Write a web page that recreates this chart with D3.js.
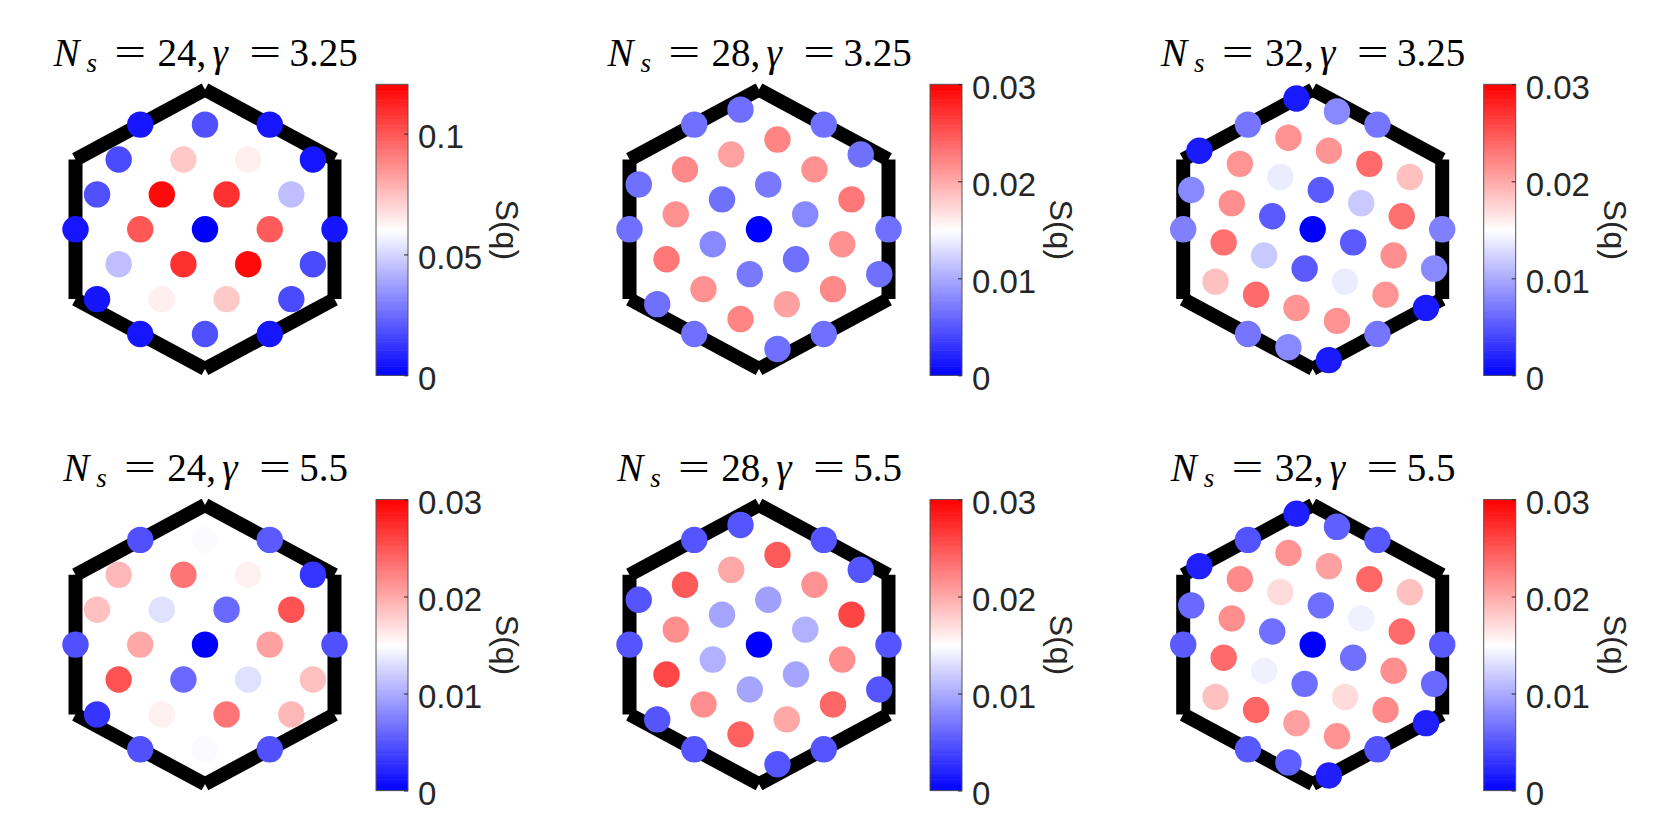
<!DOCTYPE html>
<html><head><meta charset="utf-8">
<script src="https://cdn.jsdelivr.net/npm/d3@7"></script>
<style>body{margin:0;background:#fff}</style>
</head><body>
<svg id="chart" width="1661" height="832"></svg>
<script>
// ---------------- DATA ----------------
// cluster sizes (columns) and coupling values (rows)
const clusterSizes = [24, 28, 32];
const gammaValues = ["3.25", "5.5"];
// Brillouin-zone extents in each cluster's momentum-grid units (half-width, circumradius)
const gridHalfWidth = [6, 14, 16];
const gridRadius = [4, 28, 32];
// colour-bar ranges and ticks
const cbarMaxTop = [0.1204, 0.03, 0.03];
const cbarMaxBottom = [0.03, 0.03, 0.03];
const ticksWide = [0, 0.05, 0.1];
const ticksNarrow = [0, 0.01, 0.02, 0.03];
const colorbarLabel = "S(q)";

// [qx, qy, S(q)] momentum points (grid units) and structure factor
const sqN24g325 = [
 [-3,3,0.005],[0,3,0.019],[3,3,0.005],
 [-4,2,0.0175],[-1,2,0.073],[2,2,0.064],[5,2,0.005],
 [-5,1,0.019],[-2,1,0.118],[1,1,0.109],[4,1,0.045],
 [-6,0,0.005],[-3,0,0.100],[0,0,0],[3,0,0.099],[6,0,0.005],
 [-4,-1,0.045],[-1,-1,0.109],[2,-1,0.118],[5,-1,0.0175],
 [-5,-2,0.005],[-2,-2,0.064],[1,-2,0.073],[4,-2,0.0175],
 [-3,-3,0.005],[0,-3,0.019],[3,-3,0.005]
];
const sqN28g325 = [
 [-2,24,0.0065],[-7,21,0.0066],[7,21,0.0066],[2,18,0.0222],[-3,15,0.0205],[11,15,0.0066],
 [-8,12,0.022],[6,12,0.0215],[-13,9,0.0066],[1,9,0.0071],[-4,6,0.0066],[10,6,0.023],
 [-9,3,0.0215],[5,3,0.008],[-14,0,0.0066],[0,0,0],[14,0,0.0066],[-5,-3,0.008],
 [9,-3,0.0215],[-10,-6,0.023],[4,-6,0.0066],[13,-9,0.0066],[-1,-9,0.0071],[-6,-12,0.0215],
 [8,-12,0.022],[-11,-15,0.0066],[3,-15,0.0205],[-2,-18,0.0222],[-7,-21,0.0066],[7,-21,0.0066],[2,-24,0.0066]
];
const sqN32g325 = [
 [-2,30,0.0015],[3,27,0.008],[-8,24,0.0069],[8,24,0.0069],[-3,21,0.0214],[-14,18,0.0015],
 [2,18,0.0213],[-9,15,0.0213],[7,15,0.0237],[12,12,0.0187],[-4,12,0.0139],[-15,9,0.008],
 [1,9,0.0053],[6,6,0.0118],[-10,6,0.0216],[11,3,0.0234],[-5,3,0.0053],[-16,0,0.0075],
 [0,0,0],[16,0,0.0075],[-11,-3,0.0234],[5,-3,0.0053],[10,-6,0.0216],[-6,-6,0.0118],
 [15,-9,0.008],[-1,-9,0.0053],[-12,-12,0.0187],[4,-12,0.0139],[-7,-15,0.0237],[9,-15,0.0213],
 [14,-18,0.0015],[-2,-18,0.0213],[3,-21,0.0214],[-8,-24,0.0069],[8,-24,0.0069],[-3,-27,0.008],[2,-30,0.0015]
];
const sqN24g55 = [
 [-3,3,0.0047],[0,3,0.0147],[3,3,0.0053],
 [-4,2,0.0192],[-1,2,0.0231],[2,2,0.0158],[5,2,0.0031],
 [-5,1,0.0187],[-2,1,0.0132],[1,1,0.0062],[4,1,0.0252],
 [-6,0,0.0047],[-3,0,0.0201],[0,0,0],[3,0,0.0205],[6,0,0.0047],
 [-4,-1,0.0252],[-1,-1,0.0062],[2,-1,0.0132],[5,-1,0.0187],
 [-5,-2,0.0031],[-2,-2,0.0158],[1,-2,0.0231],[4,-2,0.0192],
 [-3,-3,0.0047],[0,-3,0.0147],[3,-3,0.0047]
];
const sqN28g55 = [
 [-2,24,0.005],[-7,21,0.005],[7,21,0.005],[2,18,0.0247],[-3,15,0.0201],[11,15,0.005],
 [-8,12,0.0247],[6,12,0.0214],[-13,9,0.005],[1,9,0.0094],[-4,6,0.0097],[10,6,0.026],
 [-9,3,0.0216],[5,3,0.0104],[-14,0,0.005],[0,0,0],[14,0,0.005],[-5,-3,0.0104],
 [9,-3,0.0216],[-10,-6,0.0258],[4,-6,0.0097],[13,-9,0.005],[-1,-9,0.0097],[-6,-12,0.0216],
 [8,-12,0.024],[-11,-15,0.005],[3,-15,0.0201],[-2,-18,0.0243],[-7,-21,0.005],[7,-21,0.005],[2,-24,0.005]
];
const sqN32g55 = [
 [-2,30,0.0018],[3,27,0.0056],[-8,24,0.0048],[8,24,0.0052],[-3,21,0.0214],[-14,18,0.0019],
 [2,18,0.0206],[-9,15,0.0219],[7,15,0.024],[12,12,0.0187],[-4,12,0.0171],[-15,9,0.0062],
 [1,9,0.0065],[6,6,0.0141],[-10,6,0.0216],[11,3,0.0237],[-5,3,0.0066],[-16,0,0.0053],
 [0,0,0],[16,0,0.0053],[-11,-3,0.0237],[5,-3,0.0066],[10,-6,0.0216],[-6,-6,0.0141],
 [15,-9,0.0062],[-1,-9,0.0065],[-12,-12,0.0187],[4,-12,0.0171],[-7,-15,0.024],[9,-15,0.0219],
 [14,-18,0.0019],[-2,-18,0.0206],[3,-21,0.0214],[-8,-24,0.0052],[8,-24,0.0048],[-3,-27,0.0056],[2,-30,0.0018]
];

// ---------------- LAYOUT ----------------
const colCx = [205, 759, 1312.7];
const rowCy = [229.3, 644.6];
const hexHalfW = 129.5, hexR = 139.6;
const cbarX = [376, 930, 1483.7];
const cbarW = 32, cbarH = 291;
const cbarTop = [84.3, 499.5];
const titleY = [65.7, 481.2];
const serif = "'Liberation Serif', 'Times New Roman', serif";
const sans = "'Liberation Sans', Arial, Helvetica, sans-serif";

const svg = d3.select("#chart");

function drawTitle(g, cx, y, ns, gam) {
  const tg = g.append("g");
  const pieces = [
    {txt: "N", x: 0, it: true, fs: 39},
    {txt: "s", x: 33, it: true, fs: 27, dy: 6},
    {txt: "=", mid: 76.7, fs: 39, sx: 1.45},
    {txt: ns + ",", x: 104, fs: 39},
    {txt: "γ", x: 159, it: true, fs: 39},
    {txt: "=", mid: 211.7, fs: 39, sx: 1.45},
    {txt: gam, x: 236, fs: 39}
  ];
  let last = null;
  pieces.forEach(pc => {
    const t = tg.append("text")
      .attr("font-family", serif).attr("font-size", pc.fs).attr("fill", "#000")
      .attr("font-style", pc.it ? "italic" : "normal").text(pc.txt);
    if (pc.mid !== undefined) {
      t.attr("text-anchor", "middle")
       .attr("transform", `translate(${pc.mid},${y}) scale(${pc.sx},1)`);
    } else {
      t.attr("x", pc.x).attr("y", y + (pc.dy || 0));
    }
    last = {node: t.node(), x: pc.x};
  });
  const w = last.x + last.node.getComputedTextLength();
  tg.attr("transform", `translate(${cx + 0.5 - w / 2},0)`);
}

const panels = [
  {row:0, col:0, pts:sqN24g325, max:cbarMaxTop[0], ticks:ticksWide},
  {row:0, col:1, pts:sqN28g325, max:cbarMaxTop[1], ticks:ticksNarrow},
  {row:0, col:2, pts:sqN32g325, max:cbarMaxTop[2], ticks:ticksNarrow},
  {row:1, col:0, pts:sqN24g55, max:cbarMaxBottom[0], ticks:ticksNarrow},
  {row:1, col:1, pts:sqN28g55, max:cbarMaxBottom[1], ticks:ticksNarrow},
  {row:1, col:2, pts:sqN32g55, max:cbarMaxBottom[2], ticks:ticksNarrow}
];

panels.forEach(p => {
  const cx = colCx[p.col], cy = rowCy[p.row];
  const gx = gridHalfWidth[p.col], gy = gridRadius[p.col];
  const x = d3.scaleLinear().domain([-gx, gx]).range([cx - hexHalfW, cx + hexHalfW]);
  const y = d3.scaleLinear().domain([-gy, gy]).range([cy + hexR, cy - hexR]);
  const color = d3.scaleLinear().domain([0, p.max / 2, p.max])
     .range(["#0000ff", "#ffffff", "#ff0000"]).interpolate(d3.interpolateRgb).clamp(true);

  const g = svg.append("g");

  drawTitle(g, cx, titleY[p.row], clusterSizes[p.col], gammaValues[p.row]);

  // hexagon boundary, drawn as six separate thick segments (butt ends)
  const verts = [[0, gy], [gx, gy/2], [gx, -gy/2], [0, -gy], [-gx, -gy/2], [-gx, gy/2]];
  const line = d3.line().x(d => x(d[0])).y(d => y(d[1]));
  const edges = verts.map((v, i) => [v, verts[(i + 1) % 6]]);
  g.selectAll("path.edge").data(edges).join("path")
    .attr("class", "edge")
    .attr("d", line)
    .attr("fill", "none").attr("stroke", "#000")
    .attr("stroke-width", 14).attr("stroke-linecap", "butt");

  // momentum points
  g.selectAll("circle.pt").data(p.pts).join("circle")
    .attr("class", "pt")
    .attr("cx", d => x(d[0])).attr("cy", d => y(d[1]))
    .attr("r", 13.2)
    .attr("fill", d => color(d[2]));

  // colour bar
  const bx = cbarX[p.col], by = cbarTop[p.row];
  const cs = d3.scaleLinear().domain([0, p.max]).range([by + cbarH, by]);
  const nSteps = 128;
  const steps = d3.range(nSteps);
  g.selectAll("rect.cb").data(steps).join("rect")
    .attr("class", "cb")
    .attr("x", bx).attr("width", cbarW)
    .attr("y", i => cs((i + 1) * p.max / nSteps))
    .attr("height", i => cs(i * p.max / nSteps) - cs((i + 1) * p.max / nSteps) + 0.6)
    .attr("fill", i => color((i + 0.5) * p.max / nSteps));
  g.append("rect").attr("x", bx).attr("y", by).attr("width", cbarW).attr("height", cbarH)
    .attr("fill", "none").attr("stroke", "#555").attr("stroke-width", 1);

  const axis = d3.axisRight(cs).tickValues(p.ticks).tickSize(0).tickPadding(0)
    .tickFormat(d => d === 0 ? "0" : String(d));
  const ag = g.append("g").attr("transform", `translate(${bx + cbarW},0)`).call(axis);
  ag.select(".domain").remove();
  ag.selectAll(".tick line").attr("x2", -4).attr("stroke", "#262626").attr("stroke-width", 1);
  ag.selectAll(".tick text").attr("x", 10).attr("dy", "0.42em")
    .attr("font-family", sans).attr("font-size", 33).attr("fill", "#262626");

  g.append("text")
    .attr("transform", `translate(${bx + cbarW + 100},${by + cbarH / 2}) rotate(90)`)
    .attr("text-anchor", "middle").attr("dy", "0.36em")
    .attr("font-family", sans).attr("font-size", 32)
    .attr("fill", "#262626").text(colorbarLabel);
});
</script>
</body></html>
